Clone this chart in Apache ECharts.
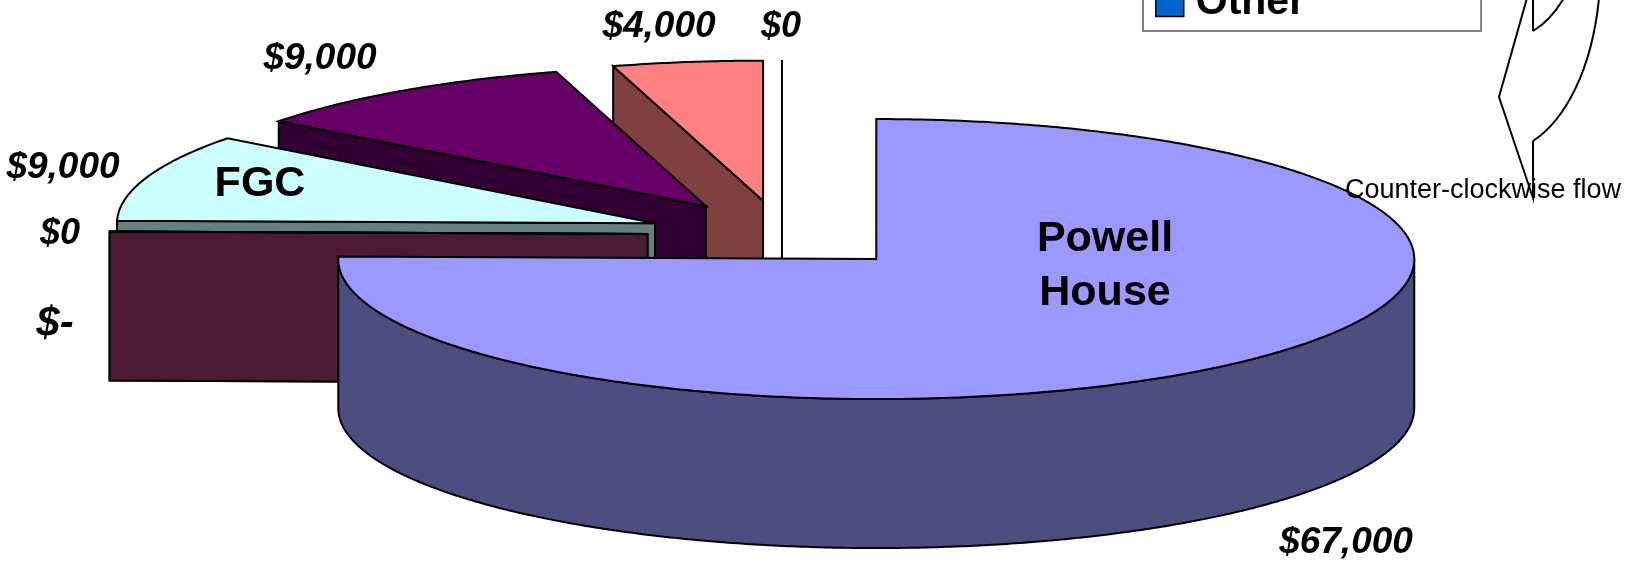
<!DOCTYPE html>
<html>
<head>
<meta charset="utf-8">
<style>html,body{margin:0;padding:0;background:#fff;overflow:hidden}#c{width:1627px;height:562px}</style>
<script src="https://cdn.jsdelivr.net/npm/echarts@6/dist/echarts.min.js"></script>
</head>
<body>
<div id="c"></div>
<script>
const categories = ['Powell House', 'Item 2', 'Item 3', 'FGC', 'Item 5', 'Item 6', 'Other'];
const values = [67000, 0, 0, 9000, 9000, 4000, 0];
const valueLabels = ['$67,000', '$-', '$0', '$9,000', '$9,000', '$4,000', '$0'];
const innerLabels = ['Powell\nHouse', '', '', 'FGC', '', '', ''];
const topColors = ['#9999FF', '#993366', '#FFFFCC', '#CCFFFF', '#660066', '#FF8080', '#0066CC'];
const sideColors = ['#4D4D80', '#4D1A33', '#808066', '#668080', '#330033', '#804040', '#003366'];

// pie layout
const CX = 782, CY = 234.6, RX = 538, RY = 140, DEPTH = 149, EXPLODE_X = 0.25, EXPLODE_Y = 0.245, FONT = '"Liberation Sans", Arial, sans-serif';
// label layout: [centre x, baseline y, font size]
const valueLabelLayout = [[1346, 552, 37], [55, 335, 42], [60, 243, 36], [63, 177, 37], [320, 68, 37], [659, 36, 37], [781, 36, 36]];
const innerLabelLayout = [[1105, 250, 43], null, null, [260, 195, 43], null, null, null];
const INNER_LINE = 54;
const BASELINE_SHIFT = 0.25;

const total = values.reduce((a, b) => a + b, 0);
const rad = d => d * Math.PI / 180;
let acc = 0;
const spans = values.map(v => { const s = acc; acc += v / total * 360; return [s, acc]; });

function rim(cx, cy, a, dy) { return [cx + RX * Math.sin(rad(a)), cy - RY * Math.cos(rad(a)) + (dy || 0)]; }
function arc(cx, cy, a0, a1, dy) {
  const pts = [], n = Math.max(1, Math.ceil(Math.abs(a1 - a0) * 2));
  for (let i = 0; i <= n; i++) pts.push(rim(cx, cy, a0 + (a1 - a0) * i / n, dy));
  return pts;
}
function poly(points, fill, z2) {
  return { type: 'polygon', z2: z2, shape: { points }, style: { fill, stroke: '#000', lineWidth: 2, lineJoin: 'miter' } };
}
function label(text, x, baseline, size, style, z2) {
  return { type: 'text', z2: z2 || 50, style: { text, x, y: baseline - size * BASELINE_SHIFT, align: 'center', verticalAlign: 'middle',
    fill: '#000', font: `${style} ${size}px ${FONT}` } };
}
function renderSlice(i) {
  return function () {
    const [a0, a1] = spans[i];
    const m = (a0 + a1) / 2;
    const cx = CX + EXPLODE_X * RX * Math.sin(rad(m));
    const cy = CY - EXPLODE_Y * RY * Math.cos(rad(m));
    const kids = [];
    const face = a => { const p = rim(cx, cy, a); return poly([[cx, cy], p, [p[0], p[1] + DEPTH], [cx, cy + DEPTH]], sideColors[i], 1); };
    if (a0 > 180) kids.push(face(a0));
    if (a1 > 0 && a1 < 180) kids.push(face(a1));
    const s0 = Math.max(a0, 90), s1 = Math.min(a1, 270);
    if (s1 > s0) kids.push(poly(arc(cx, cy, s0, s1).concat(arc(cx, cy, s1, s0, DEPTH)), sideColors[i], 2));
    kids.push(poly([[cx, cy]].concat(arc(cx, cy, a0, a1)), topColors[i], 3));
    const v = valueLabelLayout[i];
    kids.push(label(valueLabels[i], v[0], v[1], v[2], 'italic bold'));
    if (innerLabels[i]) {
      const t = innerLabelLayout[i];
      innerLabels[i].split('\n').forEach((ln, k) => kids.push(label(ln, t[0], t[1] + k * INNER_LINE, t[2], 'bold')));
    }
    return { type: 'group', children: kids };
  };
}

const series = categories.map((name, i) => ({
  type: 'custom', name, coordinateSystem: 'none', silent: true, animation: false,
  itemStyle: { color: topColors[i] }, data: [[values[i]]], renderItem: renderSlice(i)
})).reverse();

const arrowStyle = { fill: 'none', stroke: '#000', lineWidth: 2 };
const chart = echarts.init(document.getElementById('c'), null, { renderer: 'canvas' });
chart.setOption({
  animation: false,
  backgroundColor: '#fff',
  legend: {
    data: [{ name: 'Other', icon: 'rect', itemStyle: { color: '#0066CC', borderColor: '#000', borderWidth: 1.5 } }],
    left: 1143, top: -68, orient: 'vertical', selectedMode: false,
    itemWidth: 28, itemHeight: 28, backgroundColor: '#fff', borderColor: '#808080', borderWidth: 2,
    padding: [50, 176, 8, 12],
    formatter: '{a|{name}}',
    textStyle: { rich: { a: { fontFamily: FONT, fontSize: 41, fontWeight: 'bold', color: '#000', padding: [0, 0, 0, 7] } } }
  },
  series,
  graphic: [
    { type: 'polyline', z: 6, shape: { points: [[1527, -2], [1499, 97], [1533, 198], [1533, 141]] }, style: arrowStyle },
    { type: 'bezierCurve', z: 6, shape: { x1: 1533, y1: 141, cpx1: 1565, cpy1: 120, cpx2: 1592, cpy2: 70, x2: 1599, y2: -2 }, style: arrowStyle },
    { type: 'polyline', z: 6, shape: { points: [[1533, -2], [1533, 31]] }, style: arrowStyle },
    { type: 'bezierCurve', z: 6, shape: { x1: 1533, y1: 31, cpx1: 1545, cpy1: 24, cpx2: 1555, cpy2: 13, x2: 1564, y2: -2 }, style: arrowStyle },
    { type: 'text', z: 7, style: { text: 'Counter-clockwise flow', x: 1345, y: 191, align: 'left', verticalAlign: 'middle', fill: '#000', font: `27px ${FONT}` } }
  ]
});
</script>
</body>
</html>
